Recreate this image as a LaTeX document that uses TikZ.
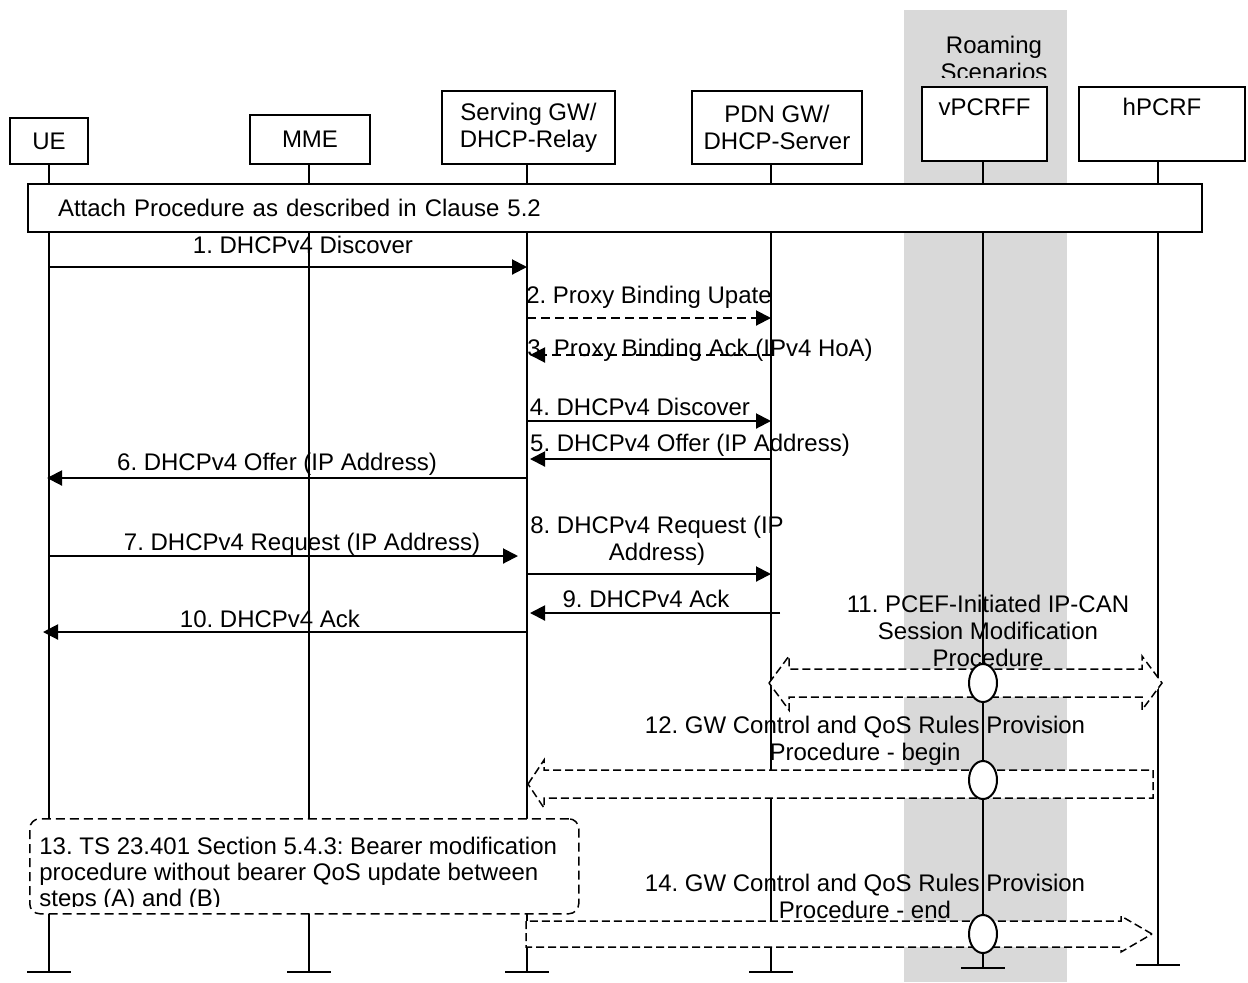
\documentclass[tikz,border=0pt]{standalone}
\usepackage{fontspec}
\setmainfont{Liberation Sans}
\frenchspacing
\usetikzlibrary{arrows.meta,shapes.geometric}
\definecolor{bandgray}{RGB}{217,217,217}
\tikzset{
  ent/.style={draw, fill=white, line width=1pt, inner sep=0pt, align=center},
  toptext/.style={inner ysep=5.3pt, text height=9pt, text depth=17.4pt},
  life/.style={line width=0.85pt},
  msg/.style={line width=1pt, -{Triangle[length=7.5pt,width=7.5pt]}},
  dmsg/.style={msg, dash pattern=on 4.5pt off 2.5pt},
  lbl/.style={inner sep=0pt, text height=9pt, text depth=2.5pt},
  mlbl/.style={inner sep=0pt, align=center},
  blk/.style={draw, fill=white, line width=0.75pt, dash pattern=on 4pt off 2pt},
  ell/.style={draw, fill=white, ellipse, line width=1pt, minimum width=14pt, minimum height=19pt, inner sep=0pt},
  notebox/.style={draw, fill=white, line width=0.75pt, dash pattern=on 4.5pt off 2.5pt, rounded corners=5pt, inner sep=0pt},
}
\begin{document}
\begin{tikzpicture}[x=0.5pt, y=-0.5pt, font=\fontsize{12}{13.5}\selectfont]
\useasboundingbox (0,0) rectangle (1248,982);
\fill[bandgray] (904,10) rectangle (1067,982);
\begin{scope}
\clip (904,10) rectangle (1067,77);
\node[mlbl] (roam) at (994,58) {Roaming\\Scenarios};
\end{scope}
\node[ent, minimum width=39pt, minimum height=23pt] (ue) at (49,141) {UE};
\node[ent, minimum width=60pt, minimum height=24.5pt] (mme) at (310,139.5) {MME};
\node[ent, minimum width=86.5pt, minimum height=36.5pt] (sgw) at (528.5,127.5) {Serving GW/\\DHCP-Relay};
\node[ent, minimum width=85pt, minimum height=36.5pt] (pdn) at (777,127.5) {PDN GW/\\DHCP-Server};
\node[ent, toptext, minimum width=62.5pt] (vpc) at (984.5,124) {vPCRFF};
\node[ent, toptext, minimum width=83pt] (hpc) at (1162,124) {hPCRF};
\foreach \n/\x/\e in {ue/49/972, mme/309/972, sgw/527/972, pdn/771/972, vpc/983/968, hpc/1158/965} {
  \coordinate (l\n) at (\x,0);
  \draw[life] (\n.south -| l\n) -- (\x,\e) coordinate (e\n);
  \draw[life] ([xshift=-11pt]e\n) -- ([xshift=11pt]e\n);
}
\node[ent, anchor=north west, inner xsep=15pt, text width=557pt, minimum height=24pt, align=left] (attach) at (27,183) {Attach Procedure as described in Clause 5.2};
\foreach \i/\y in {1/267,2/318,3/355,4/421,5/459,6/478,7/556,8/574,9/613,10/632}
  \coordinate (m\i) at (0,\y);
\draw[msg] (lue |- m1) -- (lsgw |- m1);
\draw[dmsg] (lsgw |- m2) -- (lpdn |- m2);
\draw[dmsg, shorten >=1.5pt] (lpdn |- m3) -- (lsgw |- m3);
\draw[msg] (lsgw |- m4) -- (lpdn |- m4);
\draw[msg, shorten >=1.5pt] (lpdn |- m5) -- (lsgw |- m5);
\draw[msg, shorten >=-1pt] (lsgw |- m6) -- (lue |- m6);
\draw[msg, shorten >=4.5pt] (lue |- m7) -- (lsgw |- m7);
\draw[msg] (lsgw |- m8) -- (lpdn |- m8);
\draw[msg, shorten <=-4.5pt, shorten >=1.5pt] (lpdn |- m9) -- (lsgw |- m9);
\draw[msg, shorten >=-3pt] (lsgw |- m10) -- (lue |- m10);
\node[lbl] (t1) at (303,247) {1. DHCPv4 Discover};
\node[lbl] (t2) at (649,297) {2. Proxy Binding Upate};
\node[lbl] (t3) at (700,350) {3. Proxy Binding Ack (IPv4 HoA)};
\node[lbl] (t4) at (640,409) {4. DHCPv4 Discover};
\node[lbl] (t5) at (690,445) {5. DHCPv4 Offer (IP Address)};
\node[lbl] (t6) at (277,464) {6. DHCPv4 Offer (IP Address)};
\node[lbl] (t7) at (302,544) {7. DHCPv4 Request (IP Address)};
\node[mlbl] (t8) at (657,541) {8. DHCPv4 Request (IP\\Address)};
\node[lbl] (t9) at (646,601) {9. DHCPv4 Ack};
\node[lbl] (t10) at (270,621) {10. DHCPv4 Ack};
\node[mlbl] (t11) at (988,631) {11. PCEF-Initiated IP-CAN\\Session Modification\\Procedure};
\node[mlbl] (t12) at (865,741) {12. GW Control and QoS Rules Provision\\Procedure - begin};
\node[mlbl] (t14) at (865,896) {14. GW Control and QoS Rules Provision\\Procedure - end};
\coordinate (a11l) at (769,683);
\coordinate (a11r) at (1162,683);
\draw[blk] (a11l) -- ++(20,-27) -- ++(0,13) -- ++(353,0) -- ++(0,-13) -- (a11r) -- ++(-20,27) -- ++(0,-13) -- ++(-353,0) -- ++(0,13) -- cycle;
\coordinate (a12l) at (528,784);
\coordinate (a12r) at (1153,784);
\draw[blk] (a12l) -- ++(16,-24) -- ++(0,10) -- ([yshift=7pt]a12r) -- ([yshift=-7pt]a12r) -- ++(-609,0) -- ++(0,10) -- cycle;
\coordinate (a14l) at (526,934);
\coordinate (a14r) at (1152,934);
\draw[blk] (a14r) -- ++(-31,-18) -- ++(0,5) -- ([yshift=6.5pt]a14l) -- ([yshift=-6.5pt]a14l) -- ++(595,0) -- ++(0,5) -- cycle;
\node[ell] (c11) at (lvpc |- a11l) {};
\node[ell, yshift=2pt] (c12) at (lvpc |- a12l) {};
\node[ell] (c14) at (lvpc |- a14l) {};
\node[notebox, anchor=north west, minimum width=274.5pt, minimum height=47.5pt] (b13) at (29,818) {};
\begin{scope}
\clip (29,818) rectangle (578,906);
\node[anchor=north west, inner sep=0pt, align=left, font=\fontsize{12}{13}\selectfont] (t13) at (39,837) {13. TS 23.401 Section 5.4.3: Bearer modification\\procedure without bearer QoS update between\\steps (A) and (B)};
\end{scope}
\end{tikzpicture}
\end{document}
